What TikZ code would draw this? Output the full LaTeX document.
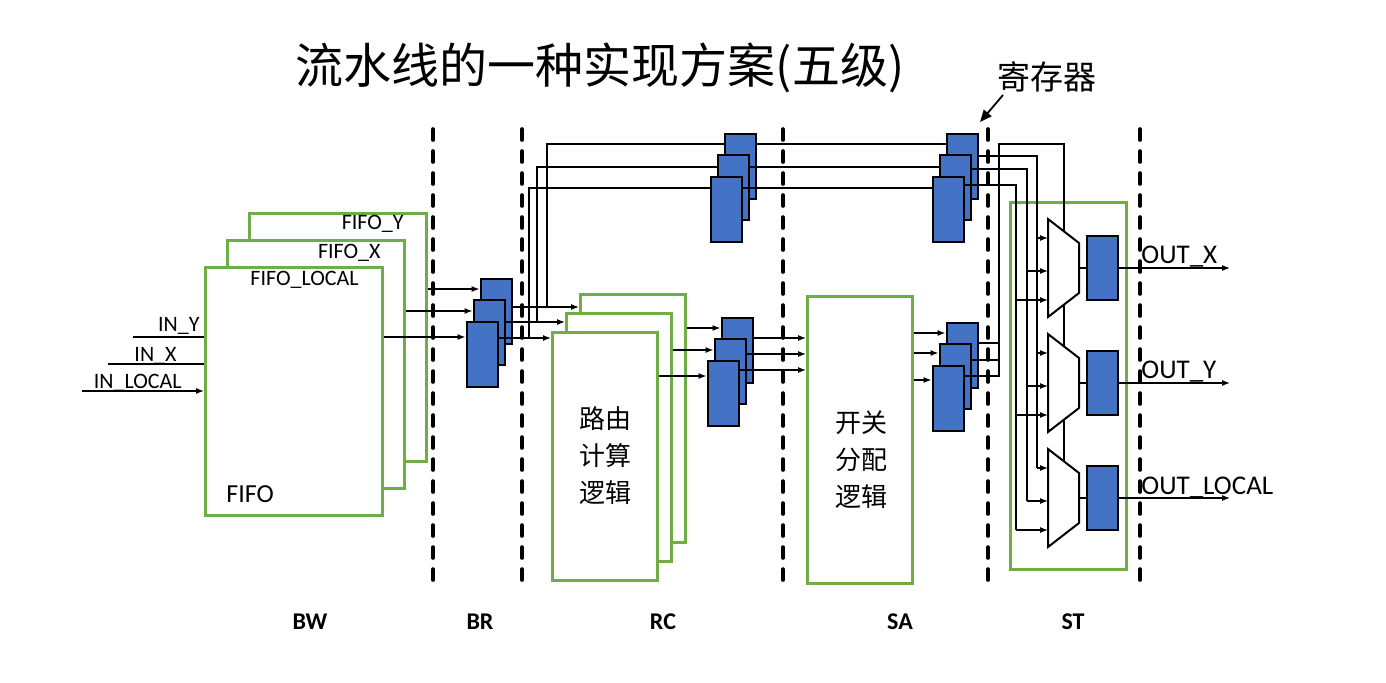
\documentclass[tikz,border=0pt]{standalone}
\usepackage{fontspec}
\setmainfont{Carlito}
\newfontfamily\cjk{Noto Sans CJK SC}
\usetikzlibrary{arrows.meta}
\definecolor{boxgreen}{HTML}{70AD47}
\definecolor{regblue}{HTML}{4472C4}

\begin{document}
\begin{tikzpicture}[x=0.5pt,y=-0.5pt,
  box/.style={draw=boxgreen,line width=1.5pt,fill=white,inner sep=0pt},
  fifo/.style={box,minimum width=88.5pt,minimum height=124pt},
  rcbox/.style={box,minimum width=52.5pt,minimum height=124pt},
  reg/.style={draw=black,line width=1pt,fill=regblue,minimum width=15.5pt,minimum height=32.5pt,inner sep=0pt},
  mux/.style={draw=black,line width=1pt,fill=white},
  conn/.style={line width=0.6pt},
  arr/.style={conn,-{Latex[length=4pt,width=3pt]}},
  callout/.style={line width=0.9pt,-{Triangle[length=6pt,width=5pt]}},
  stageline/.style={line width=1.8pt,line cap=round,dash pattern=on 5.5pt off 5.5pt},
  lbl/.style={font=\fontsize{11}{13}\selectfont,inner sep=0pt},
  biglbl/.style={font=\fontsize{13.5}{16}\selectfont,inner sep=0pt},
  stagelbl/.style={font=\bfseries\fontsize{12}{14}\selectfont,inner sep=0pt,anchor=base},
  cjktext/.style={font=\cjk\fontsize{13}{18.5}\selectfont,align=center}]
\useasboundingbox (0,0) rectangle (1386,682);

% title and register callout
\node (title) at (600,68) {\cjk\fontsize{24}{28}\selectfont 流水线的一种实现方案(五级)};
\node (reglbl) at (1047,77) {\cjk\fontsize{16.5}{20}\selectfont 寄存器};
\coordinate (regtip) at (980,122);
\draw[callout] (reglbl) ++(-44,18) -- (regtip);

% BW: input fifos
\node[fifo] (fy) at (338,337) {};
\node[fifo] (fx) at (316,364) {};
\node[fifo] (fl) at (294,391) {};
\node[lbl,anchor=base east] (fylbl) at (404,229) {FIFO\_Y};
\node[lbl,anchor=base east] (fxlbl) at (381,258) {FIFO\_X};
\node[lbl,anchor=base east] (fllbl) at (359,285) {FIFO\_LOCAL};
\node[biglbl,font=\fontsize{13}{15}\selectfont,anchor=base west] (fifolbl) at (226,502) {FIFO};

\coordinate (iny) at (133,337);
\coordinate (inx) at (108,364);
\coordinate (inl) at (82,391);
\draw[conn] (iny) -- (fl.west |- iny);
\draw[conn] (inx) -- (fl.west |- inx);
\draw[arr] (inl) -- (fl.west |- inl);
\node[lbl,anchor=base east] (inylbl) at (200,331) {IN\_Y};
\node[lbl,anchor=base east] (inxlbl) at (177,361) {IN\_X};
\node[lbl,anchor=base east] (inllbl) at (182,388) {IN\_LOCAL};

% register stacks
\foreach \n/\x/\y in {br/496/311,ru/740/166,rl/737/350,su/962/166,sl/962/355} {
  \node[reg] (\n1) at (\x,\y) {};
  \node[reg] (\n2) at (\x-7,\y+21.5) {};
  \node[reg] (\n3) at (\x-14,\y+43) {};
}

\draw[arr] (fy.east |- 0,289) -- (br1.west |- 0,289);
\draw[arr] (fx.east |- 0,311) -- (br2.west |- 0,311);
\draw[arr] (fl.east |- 0,337) -- (br3.west |- 0,337);

% RC: routing logic
\node[rcbox] (rc3) at (633,418) {};
\node[rcbox] (rc2) at (619,437) {};
\node[rcbox,cjktext] (rc1) at (605,456) {路由\\计算\\逻辑};

\draw[arr] (br1.east |- 0,307) -- (rc3.west |- 0,307);
\draw[arr] (br2.east |- 0,322) -- (rc2.west |- 0,322);
\draw[arr] (br3.east |- 0,338) -- (rc1.west |- 0,338);
\draw[conn] (547,307) |- (ru1.west |- 0,144);
\draw[conn] (537,322) |- (ru2.west |- 0,167);
\draw[conn] (529,338) |- (ru3.west |- 0,188);
\draw[conn] (ru1.east |- 0,144) -- (su1.west |- 0,144);
\draw[conn] (ru2.east |- 0,167) -- (su2.west |- 0,167);
\draw[conn] (ru3.east |- 0,188) -- (su3.west |- 0,188);

\draw[arr] (rc3.east |- 0,328) -- (rl1.west |- 0,328);
\draw[arr] (rc2.east |- 0,350) -- (rl2.west |- 0,350);
\draw[arr] (rc1.east |- 0,376) -- (rl3.west |- 0,376);

% SA: switch allocation
\node[box,minimum width=52.5pt,minimum height=143.5pt] (sa) at (860,440) {};
\node[cjktext] (satxt) at (861,460) {开关\\分配\\逻辑};

\draw[arr] (rl1.east |- 0,338) -- (sa.west |- 0,338);
\draw[arr] (rl2.east |- 0,354) -- (sa.west |- 0,354);
\draw[arr] (rl3.east |- 0,370) -- (sa.west |- 0,370);
\draw[arr] (sa.east |- 0,333) -- (sl1.west |- 0,333);
\draw[arr] (sa.east |- 0,353) -- (sl2.west |- 0,353);
\draw[arr] (sa.east |- 0,380) -- (sl3.west |- 0,380);

% ST: crossbar
\node[box,fill=none,minimum width=58pt,minimum height=183.5pt] (st) at (1068,386) {};
\draw[conn] (sl1.east |- 0,343) -- (999,343);
\draw[conn] (sl2.east |- 0,360) -- (999,360);
\draw[conn] (sl3.east |- 0,376) -- (999,376) -- (999,144) -- (1064,144) -- (1064,470);
\draw[conn] (su1.east |- 0,156) -| (1037,468);
\draw[conn] (su2.east |- 0,169) -| (1027,501);
\draw[conn] (su3.east |- 0,185) -| (1016,530);

\foreach \n/\t in {1/219,2/334,3/449} {
  \coordinate (m\n) at (1048,\t);
  \draw[mux] (m\n) -- ++(31,24) -- ++(0,50) -- ++(-31,24) -- cycle;
  \draw[arr] (m\n) ++(-11,19) -- ++(11,0);
  \draw[arr] (m\n) ++(-21,52) -- ++(21,0);
  \draw[arr] (m\n) ++(-32,81) -- ++(32,0);
  \node[reg,minimum height=32pt] (o\n) at (1102,\t+49) {};
  \draw[conn] (m\n) ++(31,49) -- (o\n.west);
  \coordinate (oend\n) at (1230,\t+49);
  \draw[arr] (o\n.east) -- (oend\n);
}
\node[biglbl,anchor=base west] (oxlbl) at (1141,263) {OUT\_X};
\node[biglbl,anchor=base west] (oylbl) at (1141,378) {OUT\_Y};
\node[biglbl,anchor=base west] (ollbl) at (1141,494) {OUT\_LOCAL};

% stage borders and names
\foreach \x in {433,522,783,988,1140}
  \draw[stageline] (\x,129) -- (\x,590);
\foreach \x/\s in {310/BW,480/BR,663/RC,900/SA,1073/ST}
  \node[stagelbl] at (\x,629) {\s};
\end{tikzpicture}
\end{document}
